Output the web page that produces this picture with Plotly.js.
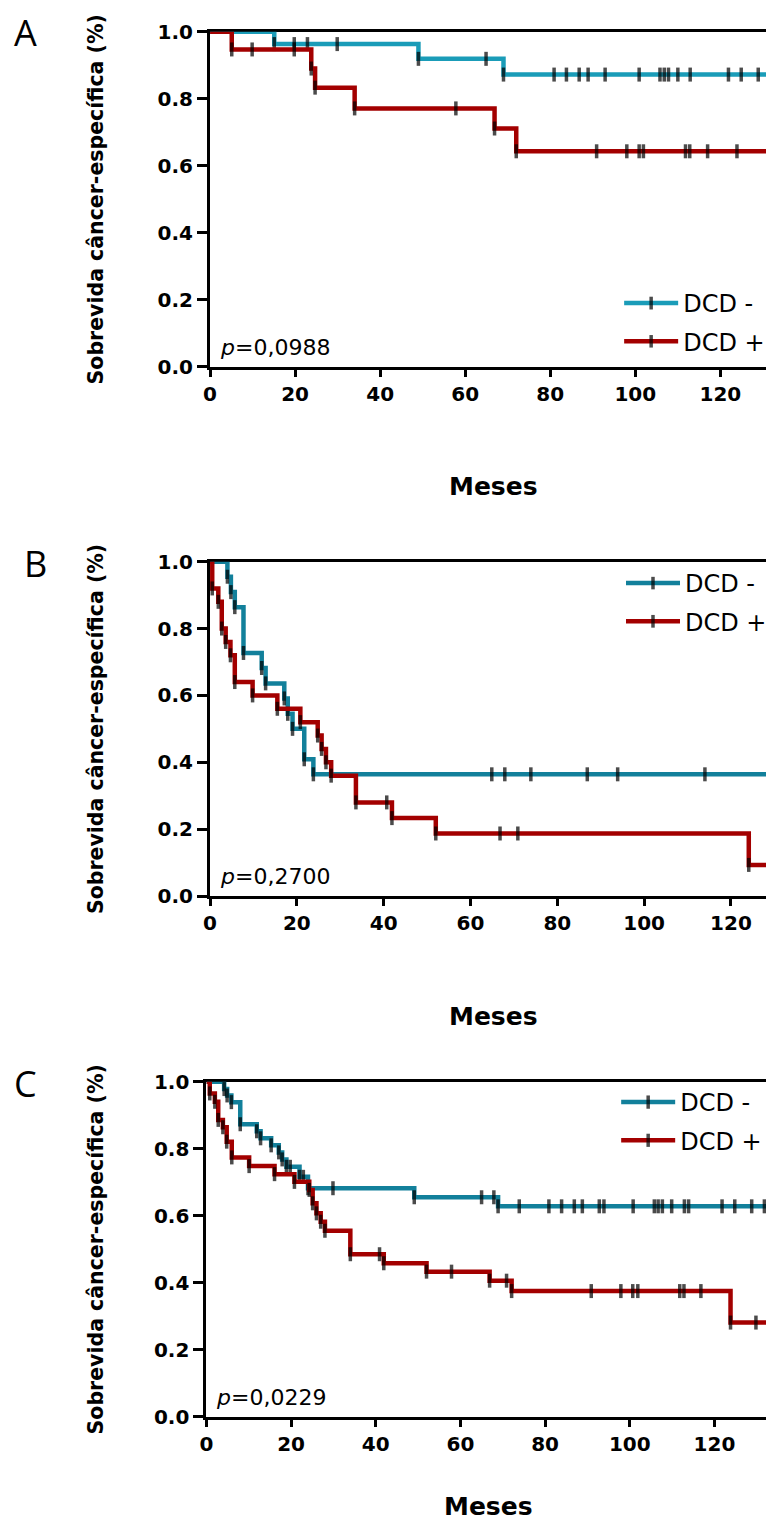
<!DOCTYPE html>
<html>
<head>
<meta charset="utf-8">
<script src="https://cdn.plot.ly/plotly-3.0.1.min.js"></script>
<style>
html,body{margin:0;padding:0;background:#fff;}
#chart{width:772px;height:1524px;}
</style>
</head>
<body>
<div id="chart"></div>
<script>
// ---------------- DATA ----------------
const seriesNames = ['DCD -', 'DCD +'];
const panelLetters = ['A', 'B', 'C'];
const pValueLabels = ['0,0988', '0,2700', '0,0229'];
const xTitleText = 'Meses';
const yTitleText = 'Sobrevida câncer-específica (%)';
const xTickVals = [0, 20, 40, 60, 80, 100, 120];
const yTickVals = [0, 0.2, 0.4, 0.6, 0.8, 1.0];
const yTickText = ['0.0', '0.2', '0.4', '0.6', '0.8', '1.0'];
const followUpEnd = 140;   // months; curves continue past the cropped right edge

// Panel A
const aNegEventT  = [15.1, 49.0, 69.0];
const aNegEventS  = [0.963, 0.919, 0.872];
const aNegCensorT = [19.8, 22.9, 29.9, 64.9, 80.9, 83.8, 86.8, 88.9, 92.9, 100.9, 105.8, 106.8, 107.8, 110.0, 112.9, 121.9, 124.9, 128.9];
const aPosEventT  = [5.1, 23.8, 24.7, 34.0, 66.9, 72.0];
const aPosEventS  = [0.947, 0.890, 0.833, 0.771, 0.711, 0.643];
const aPosCensorT = [9.9, 19.8, 57.8, 90.9, 98.0, 100.9, 101.9, 111.8, 112.8, 117.0, 123.9];

// Panel B
const bNegEventT  = [4.0, 4.8, 5.7, 7.7, 11.9, 12.8, 17.1, 17.9, 19.0, 21.7, 23.8];
const bNegEventS  = [0.955, 0.909, 0.864, 0.727, 0.682, 0.636, 0.591, 0.545, 0.500, 0.409, 0.364];
const bNegCensorT = [64.9, 67.9, 73.9, 86.9, 93.9, 114.0];
const bPosEventT  = [0.5, 1.9, 2.7, 3.6, 4.7, 5.7, 9.8, 15.5, 20.8, 24.8, 25.7, 26.7, 27.9, 33.6, 41.9, 52.0, 124.1];
const bPosEventS  = [0.92, 0.88, 0.80, 0.76, 0.72, 0.64, 0.60, 0.56, 0.52, 0.48, 0.44, 0.40, 0.36, 0.28, 0.233, 0.187, 0.093];
const bPosCensorT = [40.7, 66.8, 70.9];

// Panel C
const cNegEventT  = [4.2, 4.9, 5.9, 8.0, 11.9, 12.8, 15.3, 17.1, 17.9, 18.9, 22.0, 24.0, 49.1, 68.9];
const cNegEventS  = [0.978, 0.959, 0.939, 0.873, 0.852, 0.831, 0.810, 0.789, 0.768, 0.746, 0.716, 0.682, 0.655, 0.628];
const cNegCensorT = [19.8, 22.9, 29.9, 65.0, 67.9, 73.9, 80.9, 83.9, 86.9, 88.8, 92.8, 93.9, 100.8, 105.8, 106.7, 107.7, 109.9, 112.9, 113.9, 121.8, 124.8, 128.8, 131.8];
const cPosEventT  = [0.8, 2.0, 2.8, 3.9, 4.8, 6.0, 10.1, 16.1, 20.8, 24.3, 25.1, 26.0, 27.0, 28.0, 34.0, 41.9, 52.0, 66.9, 72.1, 123.8];
const cPosEventS  = [0.965, 0.940, 0.886, 0.864, 0.821, 0.774, 0.748, 0.724, 0.701, 0.677, 0.637, 0.607, 0.582, 0.555, 0.485, 0.458, 0.433, 0.406, 0.375, 0.281];
const cPosCensorT = [40.9, 57.9, 70.9, 90.9, 97.9, 100.7, 101.9, 111.8, 112.8, 116.8, 129.8];

// ---------------- STYLE / LAYOUT ----------------
const W = 772, H = 1524;
const FONT = 'DejaVu Sans';
const colNegA = '#1A9CB8', colNegBC = '#12809B', colPos = '#A30000';

// pixel geometry of each panel (left of y axis, top = 1.0, bottom = 0.0, px per month)
const panels = [
  {left: 211.7, top: 31.7,   bottom: 366.7,  pxPerMonth: 4.286, negColor: colNegA,
   neg: [aNegEventT, aNegEventS, aNegCensorT], pos: [aPosEventT, aPosEventS, aPosCensorT],
   letterX: 25.8, letterY: 33, xTitleX: 497, xTitleY: 486, legendTop: 281, legendLeft: 624},
  {left: 211.7, top: 561.7,  bottom: 896,    pxPerMonth: 4.375, negColor: colNegBC,
   neg: [bNegEventT, bNegEventS, bNegCensorT], pos: [bPosEventT, bPosEventS, bPosCensorT],
   letterX: 35.5, letterY: 563, xTitleX: 497, xTitleY: 1016, legendTop: 561, legendLeft: 626},
  {left: 208,   top: 1081.7, bottom: 1416.7, pxPerMonth: 4.267, negColor: colNegBC,
   neg: [cNegEventT, cNegEventS, cNegCensorT], pos: [cPosEventT, cPosEventS, cPosCensorT],
   letterX: 25.8, letterY: 1083, xTitleX: 492.6, xTitleY: 1506, legendTop: 1080, legendLeft: 621}
];

function buildKM(eventT, eventS, censorT, endT) {
  const pts = [{t: 0, s: 1, mark: false, ev: true}];
  eventT.forEach((t, i) => pts.push({t: t, s: eventS[i], mark: true, ev: true}));
  censorT.forEach(t => pts.push({t: t, s: null, mark: true, ev: false}));
  pts.sort((a, b) => (a.t - b.t) || ((b.ev ? 1 : 0) - (a.ev ? 1 : 0)));
  let cur = 1;
  pts.forEach(p => { if (p.s === null) p.s = cur; else cur = p.s; });
  pts.push({t: endT, s: cur, mark: false});
  return {x: pts.map(p => p.t), y: pts.map(p => p.s), size: pts.map(p => p.mark ? 10 : 0)};
}

const traces = [];
const layout = {
  width: W, height: H, autosize: false,
  margin: {l: 0, r: 0, t: 0, b: 0, pad: 0},
  paper_bgcolor: '#fff', plot_bgcolor: 'rgba(0,0,0,0)',
  showlegend: true,
  annotations: [],
  font: {family: FONT, color: '#000'}
};

panels.forEach((P, k) => {
  const sfx = k === 0 ? '' : String(k + 1);
  const xa = 'x' + sfx, ya = 'y' + sfx, lg = 'legend' + sfx;
  const xMax = (W - P.left) / P.pxPerMonth;
  const yDom = [(H - P.bottom) / H, (H - P.top) / H];
  const xDom = [P.left / W, 1];

  [[P.neg, P.negColor, seriesNames[0]], [P.pos, colPos, seriesNames[1]]].forEach(([d, col, nm], j) => {
    const km = buildKM(d[0], d[1], d[2], followUpEnd);
    traces.push({
      type: 'scatter', mode: 'lines+markers', name: nm,
      x: km.x, y: km.y, xaxis: xa, yaxis: ya, legend: lg, legendgroup: 'g' + k + j,
      line: {color: col, width: 4.5, shape: 'hv'},
      marker: {symbol: 'line-ns', size: km.size, color: '#000', line: {color: '#000', width: 3.5}},
      hoverinfo: 'skip'
    });
  });

  layout['xaxis' + sfx] = {
    domain: xDom, range: [0, xMax], anchor: ya, fixedrange: true,
    showgrid: false, zeroline: false, showline: true, linecolor: '#000', linewidth: 3,
    mirror: true, layer: 'below traces',
    ticks: 'outside', ticklen: 7, tickwidth: 3, tickcolor: '#000',
    tickmode: 'array', tickvals: xTickVals, ticktext: xTickVals.map(String),
    tickfont: {family: FONT, size: 20, color: '#000', weight: 'bold'}
  };
  layout['yaxis' + sfx] = {
    domain: yDom, range: [0, 1], anchor: xa, fixedrange: true,
    showgrid: false, zeroline: false, showline: true, linecolor: '#000', linewidth: 3,
    layer: 'below traces',
    ticks: 'outside', ticklen: 10, tickwidth: 3, tickcolor: '#000',
    tickmode: 'array', tickvals: yTickVals, ticktext: yTickText,
    tickfont: {family: FONT, size: 20, color: '#000', weight: 'bold'}
  };
  layout[lg] = {
    x: P.legendLeft / W, y: (H - P.legendTop) / H, xanchor: 'left', yanchor: 'top',
    xref: 'paper', yref: 'paper',
    bgcolor: 'rgba(0,0,0,0)', borderwidth: 0,
    font: {family: FONT, size: 24, color: '#000'},
    itemwidth: 54, traceorder: 'grouped', tracegroupgap: 4
  };

  // panel letter
  layout.annotations.push({
    text: panelLetters[k], xref: 'paper', yref: 'paper',
    x: P.letterX / W, y: (H - P.letterY) / H, xanchor: 'center', yanchor: 'middle',
    showarrow: false, font: {family: 'Open Sans', size: 36, color: '#000'}
  });
  // y title
  layout.annotations.push({
    text: yTitleText, xref: 'paper', yref: 'paper', textangle: -90,
    x: 97 / W, y: (H - (P.top + P.bottom) / 2) / H, xanchor: 'center', yanchor: 'middle',
    showarrow: false, font: {family: FONT, size: 20.5, color: '#000', weight: 'bold'}
  });
  // x title
  layout.annotations.push({
    text: xTitleText, xref: 'paper', yref: 'paper',
    x: P.xTitleX / W, y: (H - P.xTitleY) / H, xanchor: 'center', yanchor: 'middle',
    showarrow: false, font: {family: FONT, size: 25, color: '#000', weight: 'bold'}
  });
  // p value
  layout.annotations.push({
    text: '<i>p</i>=' + pValueLabels[k], xref: 'paper', yref: ya + ' domain',
    x: (P.left + 8) / W, y: 0.058, xanchor: 'left', yanchor: 'middle',
    showarrow: false, font: {family: FONT, size: 22, color: '#000'}
  });
});

Plotly.newPlot('chart', traces, layout, {staticPlot: true, displayModeBar: false});
</script>
</body>
</html>
